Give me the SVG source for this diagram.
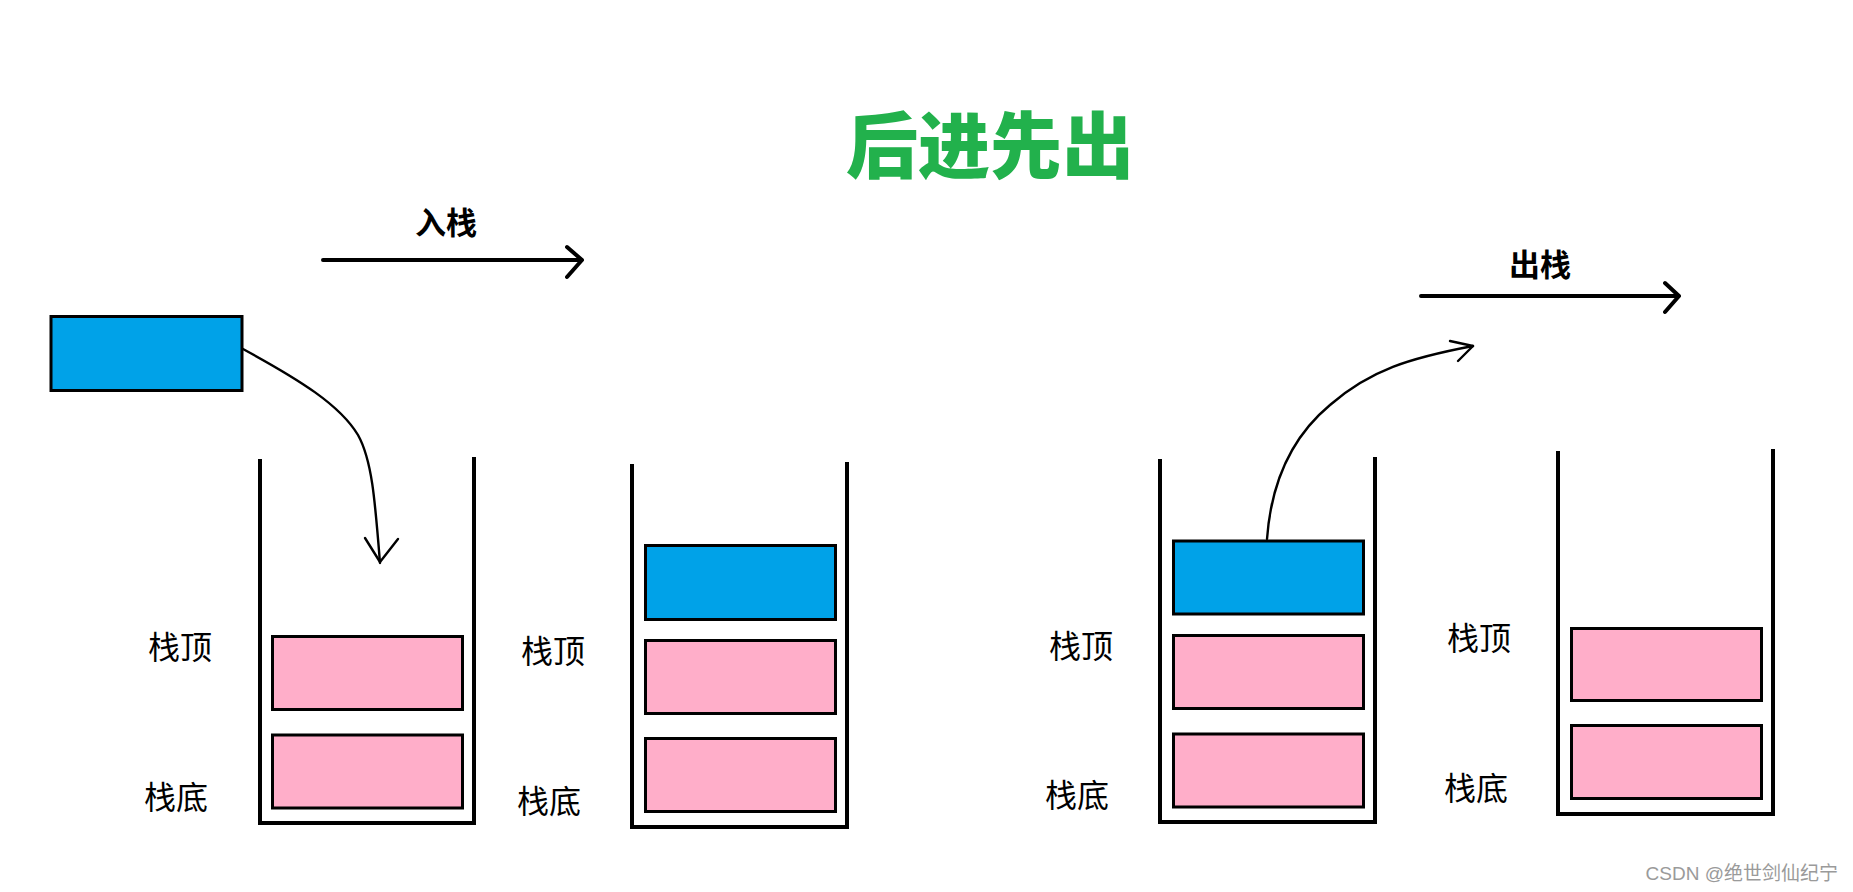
<svg xmlns="http://www.w3.org/2000/svg" width="1853" height="892" viewBox="0 0 1853 892">
<style>
.wall{fill:none;stroke:#000;stroke-width:4;stroke-linecap:square;stroke-linejoin:miter}
.blue{fill:#00a2e8;stroke:#000;stroke-width:3}
.pink{fill:#ffaec9;stroke:#000;stroke-width:3}
.lbl{font-family:"Noto Sans CJK SC","Microsoft YaHei",sans-serif;font-size:32px;fill:#000}
.op{font-family:"Noto Sans CJK SC",sans-serif;font-size:31px;font-weight:bold;fill:#000}
.title{font-family:"Noto Sans CJK SC",sans-serif;font-size:72px;font-weight:900;fill:#22b14c}
.thick{fill:none;stroke:#000;stroke-width:4;stroke-linecap:round;stroke-linejoin:round}
.thin{fill:none;stroke:#000;stroke-width:2.4;stroke-linecap:round;stroke-linejoin:round}
.wm{font-family:"Liberation Sans","Noto Sans CJK SC",sans-serif;font-size:19px;fill:#9a9a9a}
</style>
<rect width="1853" height="892" fill="#fff"/>
<text class="title" x="990" y="172" text-anchor="middle">后进先出</text>

<g id="push-label"><text class="op" x="446" y="234" text-anchor="middle">入栈</text></g>
<g id="pop-label"><text class="op" x="1540" y="276" text-anchor="middle">出栈</text></g>

<g id="incoming"><rect class="blue" x="51" y="316.5" width="191" height="74"/></g>

<g id="stack1">
<path class="wall" d="M260,461 V823 H474 V459"/>
<rect class="pink" x="272.5" y="636.5" width="190" height="73"/>
<rect class="pink" x="272.5" y="735" width="190" height="73"/>
<text class="lbl" x="148" y="659">栈顶</text>
<text class="lbl" x="144" y="809">栈底</text>
</g>

<g id="stack2">
<path class="wall" d="M632,466 V827 H847 V464"/>
<rect class="blue" x="645.5" y="545.5" width="190" height="74"/>
<rect class="pink" x="645.5" y="640.5" width="190" height="73"/>
<rect class="pink" x="645.5" y="738.5" width="190" height="73"/>
<text class="lbl" x="521" y="663">栈顶</text>
<text class="lbl" x="517" y="813">栈底</text>
</g>

<g id="stack3">
<path class="wall" d="M1160,461 V822 H1375 V459"/>
<rect class="blue" x="1173.5" y="541" width="190" height="73"/>
<rect class="pink" x="1173.5" y="635.5" width="190" height="73"/>
<rect class="pink" x="1173.5" y="734" width="190" height="73"/>
<text class="lbl" x="1049" y="658">栈顶</text>
<text class="lbl" x="1045" y="807">栈底</text>
</g>

<g id="stack4">
<path class="wall" d="M1558,453 V814 H1773 V451"/>
<rect class="pink" x="1571.5" y="628.5" width="190" height="72"/>
<rect class="pink" x="1571.5" y="725.5" width="190" height="73"/>
<text class="lbl" x="1447" y="650">栈顶</text>
<text class="lbl" x="1444" y="800">栈底</text>
</g>

<g id="connectors">
<path class="thick" d="M323,260 H582 M567,247 L582,260 L567,277"/>
<path class="thick" d="M1421,296 H1679 M1665,283 L1679,296 L1665,312"/>
<path class="thin" d="M243,349 C300,380 340,405 358,435 C372,460 375,500 380,563"/>
<path class="thin" d="M365,538 L380,562 L398,539"/>
<path class="thin" d="M1267,539 C1272,470 1300,430 1330,405 C1370,370 1410,358 1473,346"/>
<path class="thin" d="M1450,341 L1473,346 L1458,361"/>
</g>

<text class="wm" x="1838" y="880" text-anchor="end">CSDN @绝世剑仙纪宁</text>
</svg>
